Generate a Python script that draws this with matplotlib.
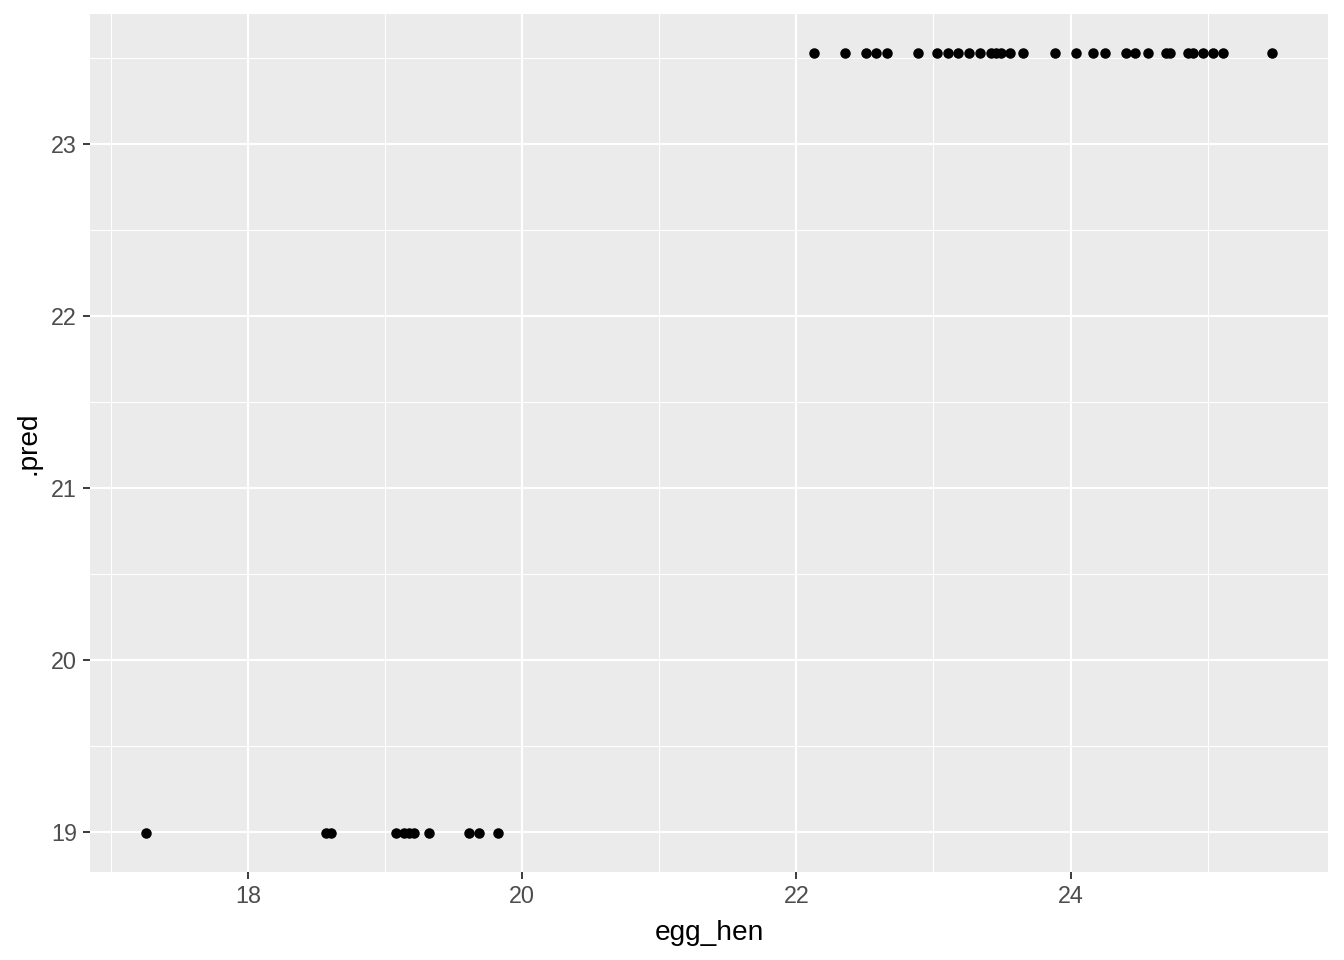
import matplotlib
matplotlib.use("Agg")
import matplotlib.pyplot as plt
from matplotlib.ticker import MultipleLocator

egg_hen_low = [17.257, 18.568, 18.605, 19.078, 19.136, 19.173, 19.209, 19.318, 19.610, 19.682, 19.821]
pred_low = 18.994
egg_hen_high = [22.125, 22.355, 22.508, 22.581, 22.659, 22.885, 23.023, 23.103, 23.181, 23.261,
                23.339, 23.419, 23.455, 23.492, 23.557, 23.650, 23.885, 24.038, 24.164, 24.249,
                24.407, 24.469, 24.565, 24.699, 24.723, 24.856, 24.890, 24.965, 25.038, 25.111,
                25.468]
pred_high = 23.529

x = egg_hen_low + egg_hen_high
y = [pred_low] * len(egg_hen_low) + [pred_high] * len(egg_hen_high)

plt.rcParams['font.family'] = ['Liberation Sans', 'DejaVu Sans']

fig = plt.figure(figsize=(14, 10), dpi=96)
ax = fig.add_axes([90/1344, 1 - 872/960, (1328-90)/1344, (872-14)/960])
ax.set_facecolor('#EBEBEB')
ax.scatter(x, y, s=62, color='black', zorder=3, linewidths=0)

xr = max(x) - min(x)
ax.set_xlim(min(x) - 0.05*xr, max(x) + 0.05*xr)
yr = max(y) - min(y)
ax.set_ylim(min(y) - 0.05*yr, max(y) + 0.05*yr)

ax.xaxis.set_major_locator(MultipleLocator(2))
ax.xaxis.set_minor_locator(MultipleLocator(1))
ax.yaxis.set_major_locator(MultipleLocator(1))
ax.yaxis.set_minor_locator(MultipleLocator(0.5))
ax.grid(which='major', color='white', linewidth=1.6, zorder=1)
ax.grid(which='minor', color='white', linewidth=0.8, zorder=1)
ax.set_axisbelow(True)
for s in ax.spines.values():
    s.set_visible(False)
ax.tick_params(which='major', length=5.2, width=1.4, color='#333333', labelcolor='#4D4D4D',
               labelsize=17.5, pad=4.5)
ax.tick_params(which='minor', length=0)

ax.set_xlabel('egg_hen', fontsize=21, color='black', labelpad=9)
ax.set_ylabel('.pred', fontsize=21, color='black', labelpad=7)

fig.savefig('out.png', dpi=96, facecolor='white')
